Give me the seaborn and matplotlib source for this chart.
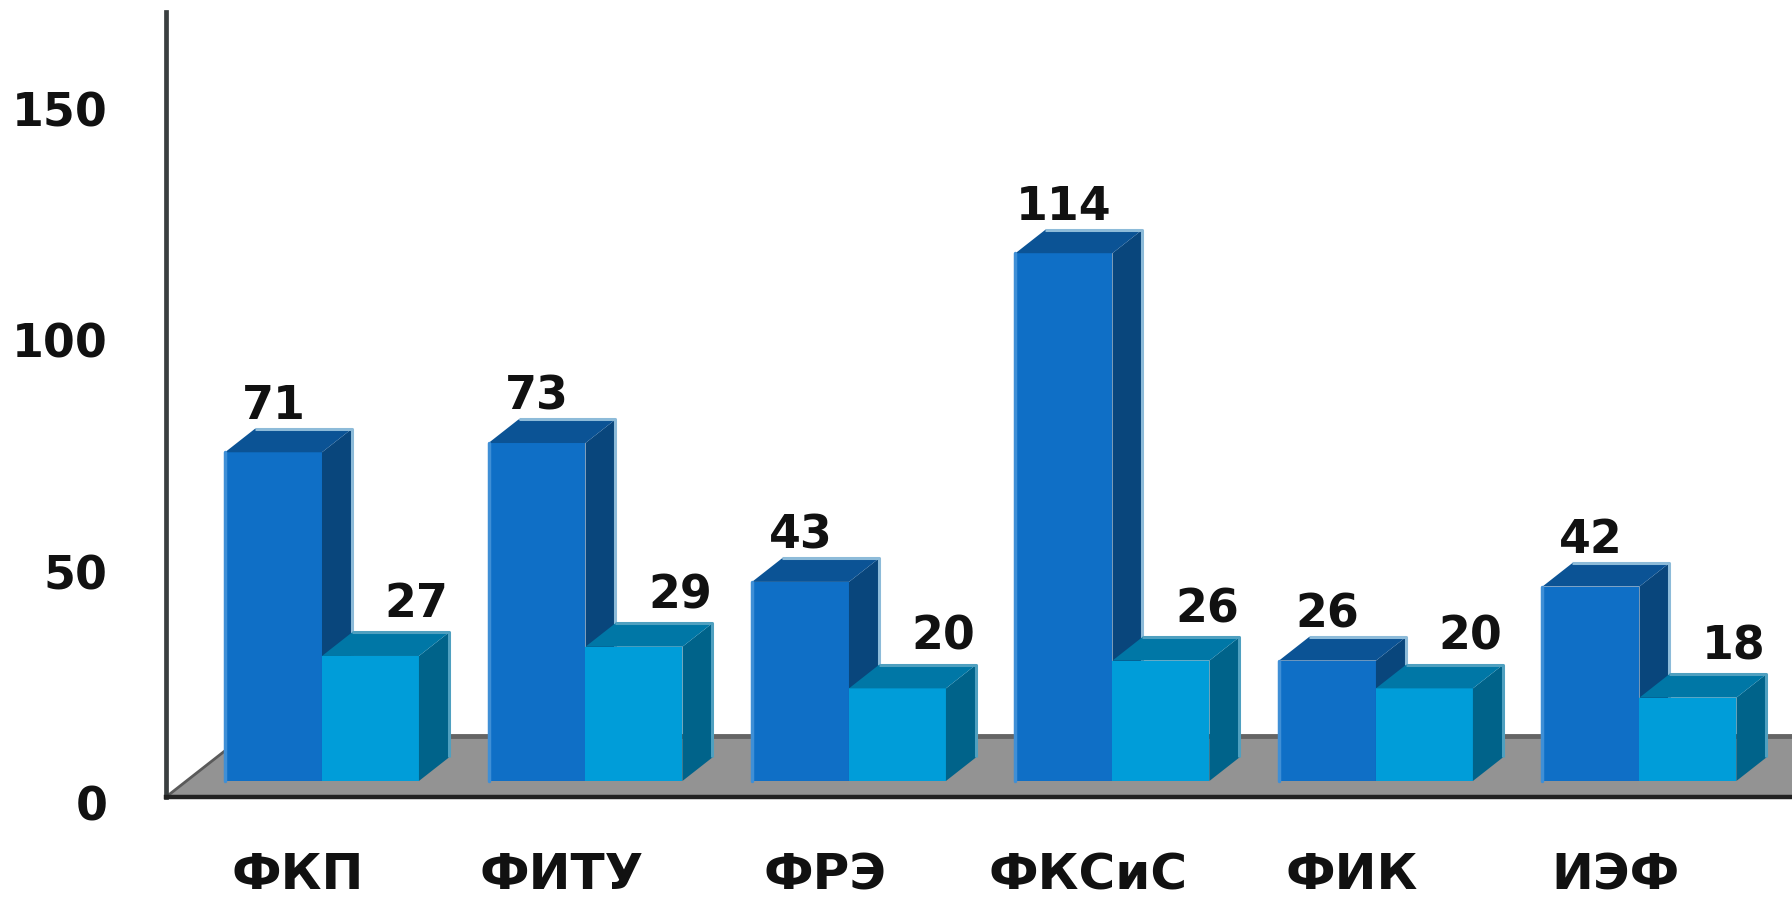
import numpy as np
import pandas as pd
import matplotlib
matplotlib.use("Agg")
import matplotlib.pyplot as plt
import seaborn as sns
from matplotlib.patches import Polygon
from matplotlib.transforms import ScaledTranslation

# data
faculties = ["ФКП", "ФИТУ", "ФРЭ", "ФКСиС", "ФИК", "ИЭФ"]
series_1 = [71, 73, 43, 114, 26, 42]
series_2 = [27, 29, 20, 26, 20, 18]
series_names = ["Ряд 1", "Ряд 2"]
y_ticks = [0, 50, 100, 150]

df = pd.DataFrame({
    "faculty": faculties * 2,
    "value": series_1 + series_2,
    "series": [series_names[0]] * len(faculties) + [series_names[1]] * len(faculties),
})

# colours: front, top, side, highlight edge
front_cols = ["#0F6FC6", "#009DD9"]
top_cols = ["#0B5395", "#0077A6"]
side_cols = ["#09467C", "#00638A"]
edge_cols = ["#8dbbd9", "#4fa0c0"]

sns.set_theme(style="white")
plt.rcParams["font.family"] = ["DejaVu Sans"]

W, H = 1792, 902
fig = plt.figure(figsize=(W / 100, H / 100), dpi=100)
ax = fig.add_axes([166 / W, 105 / H, 1 - 166 / W, 785 / H])

sns.barplot(data=df, x="faculty", y="value", hue="series", palette=front_cols,
            width=0.736, saturation=1, legend=False, ax=ax,
            edgecolor="none", linewidth=0)

ax.set_xlim(-0.592, 5.579)
ax.set_ylim(-3.46, 166.1)

# pixel -> data scale (for the fake 3d depth)
px_x = 263.5
px_y = 4.62
ddx = 30 / px_x
ddy = 23.5 / px_y

# floor
x_left, x_right = ax.get_xlim()
y_bot = ax.get_ylim()[0]
floor_back = 45 / px_y
fdx = 78 / px_x
floor = Polygon([(x_left, y_bot), (x_left + fdx, floor_back), (x_right, floor_back), (x_right, y_bot)],
                closed=True, fc="#939393", ec="none", zorder=1)
ax.add_patch(floor)
ax.plot([x_left + fdx, x_right], [floor_back, floor_back], color="#656565", lw=3.5, zorder=1.1)
ax.plot([x_left, x_left + fdx], [y_bot, floor_back], color="#5a5a5a", lw=2, zorder=1.1)

# 3d sides, tops and labels
label_dx = [0, 46]
label_gap = [10, 15]
for i, container in enumerate(ax.containers):
    z = 2 + i
    for bar in container:
        x0, w, h = bar.get_x(), bar.get_width(), bar.get_height()
        bar.set_zorder(z)
        side = Polygon([(x0 + w, 0), (x0 + w + ddx, ddy), (x0 + w + ddx, h + ddy), (x0 + w, h)],
                       closed=True, fc=side_cols[i], ec="none", zorder=z + 0.1)
        top = Polygon([(x0, h), (x0 + ddx, h + ddy), (x0 + w + ddx, h + ddy), (x0 + w, h)],
                      closed=True, fc=top_cols[i], ec="none", zorder=z + 0.1)
        ax.add_patch(side)
        ax.add_patch(top)
        ax.plot([x0 + ddx, x0 + w + ddx, x0 + w + ddx], [h + ddy, h + ddy, ddy],
                color=edge_cols[i], lw=2.2, zorder=z + 0.2, solid_capstyle="butt")
        if i == 0:
            ax.plot([x0, x0], [0, h], color="#3f8fd6", lw=2.5, zorder=z + 0.2)
        ax.annotate(f"{h:.0f}", xy=(x0 + w / 2, h),
                    xytext=(label_dx[i], 23.5 + label_gap[i]), textcoords="offset pixels",
                    ha="center", va="baseline", fontsize=33, fontweight="bold",
                    color="#111111", zorder=10)

# axes styling
for s in ["top", "right"]:
    ax.spines[s].set_visible(False)
ax.spines["left"].set_color("#3a3f40")
ax.spines["left"].set_linewidth(3.4)
ax.spines["bottom"].set_color("#222222")
ax.spines["bottom"].set_linewidth(3.2)
ax.spines["left"].set_zorder(12)
ax.spines["bottom"].set_zorder(12)

ax.set_yticks(y_ticks)
ax.set_yticklabels([str(t) for t in y_ticks], fontsize=33, fontweight="bold", color="#111111")
ax.tick_params(axis="y", length=0, pad=42)
ax.tick_params(axis="x", length=0, pad=39)
ax.set_xticks(range(len(faculties)))
ax.set_xticklabels(faculties, fontsize=36, fontweight="bold", color="#111111")
ax.set_xlabel("")
ax.set_ylabel("")
ax.grid(False)

for lab in ax.get_yticklabels():
    lab.set_transform(lab.get_transform() + ScaledTranslation(0, -0.22, fig.dpi_scale_trans))
for lab in ax.get_xticklabels():
    lab.set_transform(lab.get_transform() + ScaledTranslation(-0.24, 0, fig.dpi_scale_trans))

fig.savefig("out.png", dpi=100)
